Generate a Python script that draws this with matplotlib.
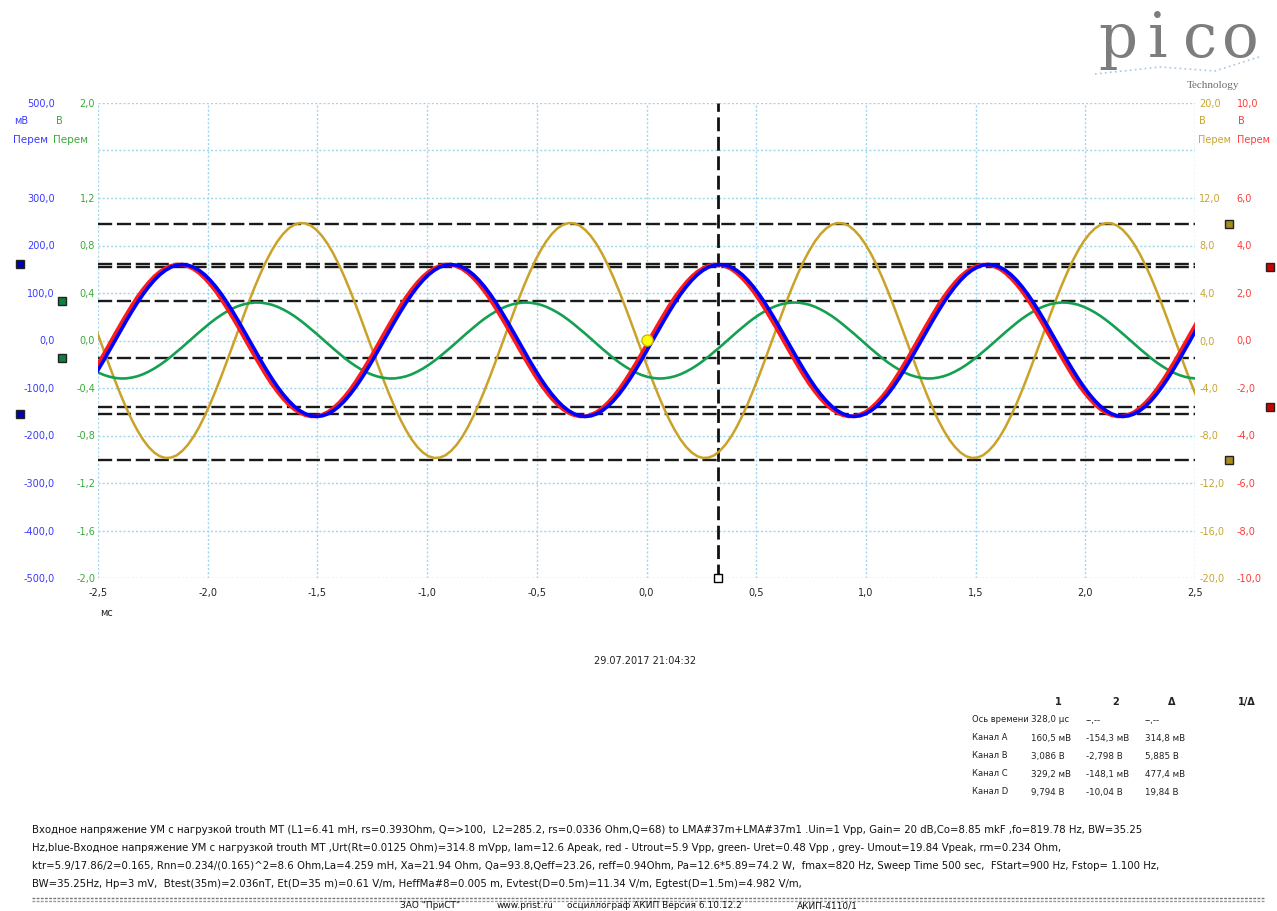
import numpy as np
import matplotlib
matplotlib.use("Agg")
import matplotlib.pyplot as plt
from matplotlib.lines import Line2D
from matplotlib.transforms import blended_transform_factory as btf

# ---------------- data ----------------
T_START = -2.5243   # ms, first sample
DT = 0.025521       # ms, sample interval

chan_a_mv = [
    -80.0, -61.2, -41.4, -20.9, 0.0, 20.9, 41.4, 61.2, 80.0, 97.4, 113.1, 126.9, 138.6, 147.8, 154.5, 158.6,
    160.0, 158.6, 154.5, 147.8, 138.6, 126.9, 113.1, 97.4, 80.0, 61.2, 41.4, 20.9, 0.0, -20.9, -41.4, -61.2,
    -80.0, -97.4, -113.1, -126.9, -138.6, -147.8, -154.5, -158.6, -160.0, -158.6, -154.5, -147.8, -138.6, -126.9, -113.1, -97.4,
    -80.0, -61.2, -41.4, -20.9, 0.0, 20.9, 41.4, 61.2, 80.0, 97.4, 113.1, 126.9, 138.6, 147.8, 154.5, 158.6,
    160.0, 158.6, 154.5, 147.8, 138.6, 126.9, 113.1, 97.4, 80.0, 61.2, 41.4, 20.9, 0.0, -20.9, -41.4, -61.2,
    -80.0, -97.4, -113.1, -126.9, -138.6, -147.8, -154.5, -158.6, -160.0, -158.6, -154.5, -147.8, -138.6, -126.9, -113.1, -97.4,
    -80.0, -61.2, -41.4, -20.9, 0.0, 20.9, 41.4, 61.2, 80.0, 97.4, 113.1, 126.9, 138.6, 147.8, 154.5, 158.6,
    160.0, 158.6, 154.5, 147.8, 138.6, 126.9, 113.1, 97.4, 80.0, 61.2, 41.4, 20.9, 0.0, -20.9, -41.4, -61.2,
    -80.0, -97.4, -113.1, -126.9, -138.6, -147.8, -154.5, -158.6, -160.0, -158.6, -154.5, -147.8, -138.6, -126.9, -113.1, -97.4,
    -80.0, -61.2, -41.4, -20.9, 0.0, 20.9, 41.4, 61.2, 80.0, 97.4, 113.1, 126.9, 138.6, 147.8, 154.5, 158.6,
    160.0, 158.6, 154.5, 147.8, 138.6, 126.9, 113.1, 97.4, 80.0, 61.2, 41.4, 20.9, 0.0, -20.9, -41.4, -61.2,
    -80.0, -97.4, -113.1, -126.9, -138.6, -147.8, -154.5, -158.6, -160.0, -158.6, -154.5, -147.8, -138.6, -126.9, -113.1, -97.4,
    -80.0, -61.2, -41.4, -20.9, 0.0, 20.9, 41.4]

chan_b_v = [
    -1.35, -0.96, -0.56, -0.14, 0.28, 0.69, 1.09, 1.48, 1.84, 2.16, 2.45, 2.70, 2.90, 3.05, 3.15, 3.20,
    3.19, 3.12, 3.01, 2.84, 2.62, 2.36, 2.06, 1.72, 1.35, 0.96, 0.56, 0.14, -0.28, -0.69, -1.09, -1.48,
    -1.84, -2.16, -2.45, -2.70, -2.90, -3.05, -3.15, -3.20, -3.19, -3.12, -3.01, -2.84, -2.62, -2.36, -2.06, -1.72,
    -1.35, -0.96, -0.56, -0.14, 0.28, 0.69, 1.09, 1.48, 1.84, 2.16, 2.45, 2.70, 2.90, 3.05, 3.15, 3.20,
    3.19, 3.12, 3.01, 2.84, 2.62, 2.36, 2.06, 1.72, 1.35, 0.96, 0.56, 0.14, -0.28, -0.69, -1.09, -1.48,
    -1.84, -2.16, -2.45, -2.70, -2.90, -3.05, -3.15, -3.20, -3.19, -3.12, -3.01, -2.84, -2.62, -2.36, -2.06, -1.72,
    -1.35, -0.96, -0.56, -0.14, 0.28, 0.69, 1.09, 1.48, 1.84, 2.16, 2.45, 2.70, 2.90, 3.05, 3.15, 3.20,
    3.19, 3.12, 3.01, 2.84, 2.62, 2.36, 2.06, 1.72, 1.35, 0.96, 0.56, 0.14, -0.28, -0.69, -1.09, -1.48,
    -1.84, -2.16, -2.45, -2.70, -2.90, -3.05, -3.15, -3.20, -3.19, -3.12, -3.01, -2.84, -2.62, -2.36, -2.06, -1.72,
    -1.35, -0.96, -0.56, -0.14, 0.28, 0.69, 1.09, 1.48, 1.84, 2.16, 2.45, 2.70, 2.90, 3.05, 3.15, 3.20,
    3.19, 3.12, 3.01, 2.84, 2.62, 2.36, 2.06, 1.72, 1.35, 0.96, 0.56, 0.14, -0.28, -0.69, -1.09, -1.48,
    -1.84, -2.16, -2.45, -2.70, -2.90, -3.05, -3.15, -3.20, -3.19, -3.12, -3.01, -2.84, -2.62, -2.36, -2.06, -1.72,
    -1.35, -0.96, -0.56, -0.14, 0.28, 0.69, 1.09]

chan_c_v = [
    -0.245, -0.270, -0.290, -0.305, -0.315, -0.320, -0.319, -0.312, -0.301, -0.284, -0.262, -0.236, -0.206, -0.172, -0.135, -0.096,
    -0.056, -0.014, 0.028, 0.069, 0.109, 0.148, 0.184, 0.216, 0.245, 0.270, 0.290, 0.305, 0.315, 0.320, 0.319, 0.312,
    0.301, 0.284, 0.262, 0.236, 0.206, 0.172, 0.135, 0.096, 0.056, 0.014, -0.028, -0.069, -0.109, -0.148, -0.184, -0.216,
    -0.245, -0.270, -0.290, -0.305, -0.315, -0.320, -0.319, -0.312, -0.301, -0.284, -0.262, -0.236, -0.206, -0.172, -0.135, -0.096,
    -0.056, -0.014, 0.028, 0.069, 0.109, 0.148, 0.184, 0.216, 0.245, 0.270, 0.290, 0.305, 0.315, 0.320, 0.319, 0.312,
    0.301, 0.284, 0.262, 0.236, 0.206, 0.172, 0.135, 0.096, 0.056, 0.014, -0.028, -0.069, -0.109, -0.148, -0.184, -0.216,
    -0.245, -0.270, -0.290, -0.305, -0.315, -0.320, -0.319, -0.312, -0.301, -0.284, -0.262, -0.236, -0.206, -0.172, -0.135, -0.096,
    -0.056, -0.014, 0.028, 0.069, 0.109, 0.148, 0.184, 0.216, 0.245, 0.270, 0.290, 0.305, 0.315, 0.320, 0.319, 0.312,
    0.301, 0.284, 0.262, 0.236, 0.206, 0.172, 0.135, 0.096, 0.056, 0.014, -0.028, -0.069, -0.109, -0.148, -0.184, -0.216,
    -0.245, -0.270, -0.290, -0.305, -0.315, -0.320, -0.319, -0.312, -0.301, -0.284, -0.262, -0.236, -0.206, -0.172, -0.135, -0.096,
    -0.056, -0.014, 0.028, 0.069, 0.109, 0.148, 0.184, 0.216, 0.245, 0.270, 0.290, 0.305, 0.315, 0.320, 0.319, 0.312,
    0.301, 0.284, 0.262, 0.236, 0.206, 0.172, 0.135, 0.096, 0.056, 0.014, -0.028, -0.069, -0.109, -0.148, -0.184, -0.216,
    -0.245, -0.270, -0.290, -0.305, -0.315, -0.320, -0.319]

chan_d_v = [
    1.72, 0.43, -0.86, -2.14, -3.39, -4.57, -5.68, -6.69, -7.58, -8.35, -8.97, -9.44, -9.75, -9.89, -9.86, -9.67,
    -9.30, -8.78, -8.11, -7.30, -6.36, -5.32, -4.18, -2.98, -1.72, -0.43, 0.86, 2.14, 3.39, 4.57, 5.68, 6.69,
    7.58, 8.35, 8.97, 9.44, 9.75, 9.89, 9.86, 9.67, 9.30, 8.78, 8.11, 7.30, 6.36, 5.32, 4.18, 2.98,
    1.72, 0.43, -0.86, -2.14, -3.39, -4.57, -5.68, -6.69, -7.58, -8.35, -8.97, -9.44, -9.75, -9.89, -9.86, -9.67,
    -9.30, -8.78, -8.11, -7.30, -6.36, -5.32, -4.18, -2.98, -1.72, -0.43, 0.86, 2.14, 3.39, 4.57, 5.68, 6.69,
    7.58, 8.35, 8.97, 9.44, 9.75, 9.89, 9.86, 9.67, 9.30, 8.78, 8.11, 7.30, 6.36, 5.32, 4.18, 2.98,
    1.72, 0.43, -0.86, -2.14, -3.39, -4.57, -5.68, -6.69, -7.58, -8.35, -8.97, -9.44, -9.75, -9.89, -9.86, -9.67,
    -9.30, -8.78, -8.11, -7.30, -6.36, -5.32, -4.18, -2.98, -1.72, -0.43, 0.86, 2.14, 3.39, 4.57, 5.68, 6.69,
    7.58, 8.35, 8.97, 9.44, 9.75, 9.89, 9.86, 9.67, 9.30, 8.78, 8.11, 7.30, 6.36, 5.32, 4.18, 2.98,
    1.72, 0.43, -0.86, -2.14, -3.39, -4.57, -5.68, -6.69, -7.58, -8.35, -8.97, -9.44, -9.75, -9.89, -9.86, -9.67,
    -9.30, -8.78, -8.11, -7.30, -6.36, -5.32, -4.18, -2.98, -1.72, -0.43, 0.86, 2.14, 3.39, 4.57, 5.68, 6.69,
    7.58, 8.35, 8.97, 9.44, 9.75, 9.89, 9.86, 9.67, 9.30, 8.78, 8.11, 7.30, 6.36, 5.32, 4.18, 2.98,
    1.72, 0.43, -0.86, -2.14, -3.39, -4.57, -5.68]

x_ticks = [-2.5, -2.0, -1.5, -1.0, -0.5, 0.0, 0.5, 1.0, 1.5, 2.0, 2.5]
x_labels = ['-2,5', '-2,0', '-1,5', '-1,0', '-0,5', '0,0', '0,5', '1,0', '1,5', '2,0', '2,5']

a_ticks = [500, 400, 300, 200, 100, 0, -100, -200, -300, -400, -500]
a_labels = ['500,0', '', '300,0', '200,0', '100,0', '0,0', '-100,0', '-200,0', '-300,0', '-400,0', '-500,0']
c_ticks = [2.0, 1.6, 1.2, 0.8, 0.4, 0.0, -0.4, -0.8, -1.2, -1.6, -2.0]
c_labels = ['2,0', '', '1,2', '0,8', '0,4', '0,0', '-0,4', '-0,8', '-1,2', '-1,6', '-2,0']
d_ticks = [20, 16, 12, 8, 4, 0, -4, -8, -12, -16, -20]
d_labels = ['20,0', '', '12,0', '8,0', '4,0', '0,0', '-4,0', '-8,0', '-12,0', '-16,0', '-20,0']
b_ticks = [10, 8, 6, 4, 2, 0, -2, -4, -6, -8, -10]
b_labels = ['10,0', '', '6,0', '4,0', '2,0', '0,0', '-2,0', '-4,0', '-6,0', '-8,0', '-10,0']

cursor_t = 0.328
cursor_a = [160.5, -154.3]
cursor_b = [3.086, -2.798]
cursor_c = [0.3292, -0.1481]
cursor_d = [9.794, -10.04]

tbl_head = ['1', '2', 'Δ', '1/Δ']
tbl_rows = ['Ось времени', 'Канал A', 'Канал B', 'Канал C', 'Канал D']
tbl_col1 = ['328,0 µс', '160,5 мВ', '3,086 В', '329,2 мВ', '9,794 В']
tbl_col2 = ['--,--', '-154,3 мВ', '-2,798 В', '-148,1 мВ', '-10,04 В']
tbl_col3 = ['--,--', '314,8 мВ', '5,885 В', '477,4 мВ', '19,84 В']

notes = [
    'Входное напряжение УМ с нагрузкой trouth MT (L1=6.41 mH, rs=0.393Ohm, Q=>100,  L2=285.2, rs=0.0336 Ohm,Q=68) to LMA#37m+LMA#37m1 .Uin=1 Vpp, Gain= 20 dB,Co=8.85 mkF ,fo=819.78 Hz, BW=35.25',
    'Hz,blue-Входное напряжение УМ с нагрузкой trouth MT ,Urt(Rt=0.0125 Ohm)=314.8 mVpp, Iam=12.6 Apeak, red - Utrout=5.9 Vpp, green- Uret=0.48 Vpp , grey- Umout=19.84 Vpeak, rm=0.234 Ohm,',
    'ktr=5.9/17.86/2=0.165, Rnn=0.234/(0.165)^2=8.6 Ohm,La=4.259 mH, Xa=21.94 Ohm, Qa=93.8,Qeff=23.26, reff=0.94Ohm, Pa=12.6*5.89=74.2 W,  fmax=820 Hz, Sweep Time 500 sec,  FStart=900 Hz, Fstop= 1.100 Hz,',
    'BW=35.25Hz, Hp=3 mV,  Btest(35m)=2.036nT, Et(D=35 m)=0.61 V/m, HeffMa#8=0.005 m, Evtest(D=0.5m)=11.34 V/m, Egtest(D=1.5m)=4.982 V/m,',
]

# ---------------- styling ----------------
W, H = 1277, 911
COL_A, COL_B, COL_C, COL_D = '#0000ff', '#ff1a1a', '#14a050', '#c9a227'
LAB_A, LAB_B, LAB_C, LAB_D = '#3a3aff', '#ff3b3b', '#3aaa3a', '#c8a430'
GRID = '#9fd6ee'
FS = 7

plt.rcParams['font.family'] = ['DejaVu Sans']

def fx(x):
    return x / W

def fy(y):
    return 1 - y / H

fig = plt.figure(figsize=(W / 100, H / 100), dpi=100)
rect = [fx(98), fy(578), (1195 - 98) / W, (578 - 103) / H]
axD = fig.add_axes(rect)
axC = axD.twinx()
axB = axD.twinx()
axA = axD.twinx()

t_ms = T_START + DT * np.arange(len(chan_a_mv))

for ax in (axD, axC, axB, axA):
    ax.set_xlim(-2.5, 2.5)
    for s in ax.spines.values():
        s.set_visible(False)
    ax.tick_params(length=0)
axD.set_ylim(-20, 20)
axC.set_ylim(-2, 2)
axB.set_ylim(-10, 10)
axA.set_ylim(-500, 500)

axD.yaxis.tick_right()
axD.set_yticks(d_ticks, d_labels)
axD.tick_params(axis='y', pad=3, labelsize=FS, labelcolor=LAB_D)
axB.yaxis.tick_right()
axB.set_yticks(b_ticks, b_labels)
axB.tick_params(axis='y', pad=30, labelsize=FS, labelcolor=LAB_B)
axC.yaxis.tick_left()
axC.set_yticks(c_ticks, c_labels)
axC.tick_params(axis='y', pad=2, labelsize=FS, labelcolor=LAB_C)
axA.yaxis.tick_left()
axA.set_yticks(a_ticks, a_labels)
axA.tick_params(axis='y', pad=31, labelsize=FS, labelcolor=LAB_A)

axD.set_xticks(x_ticks, x_labels)
axD.tick_params(axis='x', pad=7, labelsize=FS, labelcolor='#222222')

axD.grid(True, color=GRID, linestyle=(0, (1.5, 1.5)), linewidth=1.0)

# cursor levels
for ax_src, levels in ((axD, cursor_d), (axA, cursor_a), (axB, cursor_b), (axC, cursor_c)):
    tr = btf(axD.transAxes, ax_src.transData)
    for lv in levels:
        axD.plot([0, 1], [lv, lv], transform=tr, color='#1a1a1a',
                 linestyle=(0, (6, 2)), linewidth=1.7, zorder=2)

# time cursor
axD.axvline(cursor_t, color='#111111', linestyle=(0, (5, 2)), linewidth=2.0, zorder=2)
axD.plot([cursor_t], [-20], marker='s', markersize=6, markerfacecolor='white',
         markeredgecolor='black', clip_on=False, zorder=6)

# waveforms
axD.plot(t_ms, chan_d_v, color=COL_D, linewidth=1.8, zorder=3)
axC.plot(t_ms, chan_c_v, color=COL_C, linewidth=1.9, zorder=3)
axB.plot(t_ms, chan_b_v, color=COL_B, linewidth=2.6, zorder=3)
axA.plot(t_ms, chan_a_mv, color=COL_A, linewidth=2.6, zorder=4)

axA.plot([0.0], [0.0], marker='o', markersize=8, markerfacecolor='#ffff00',
         markeredgecolor='#c9b800', zorder=6)

def side_markers(ax, xa, levels, fc):
    tr = btf(ax.transAxes, ax.transData)
    for lv in levels:
        ax.plot([xa], [lv], transform=tr, marker='s', markersize=5.5, markerfacecolor=fc,
                markeredgecolor='#222222', markeredgewidth=1.0, clip_on=False, zorder=6)

side_markers(axA, (20 - 98) / 1097, cursor_a, '#0000b0')
side_markers(axC, (62 - 98) / 1097, cursor_c, '#0b8040')
side_markers(axD, (1229 - 98) / 1097, cursor_d, '#a88a20')
side_markers(axB, (1270 - 98) / 1097, cursor_b, '#d00000')

# axis unit labels
fig.text(fx(14), fy(121), 'мВ', color=LAB_A, fontsize=FS, va='center', ha='left')
fig.text(fx(56), fy(121), 'В', color=LAB_C, fontsize=FS, va='center', ha='left')
fig.text(fx(13), fy(140), 'Перем', color=LAB_A, fontsize=7.5, va='center', ha='left')
fig.text(fx(53), fy(140), 'Перем', color=LAB_C, fontsize=7.5, va='center', ha='left')
fig.text(fx(1199), fy(121), 'В', color=LAB_D, fontsize=FS, va='center', ha='left')
fig.text(fx(1238), fy(121), 'В', color=LAB_B, fontsize=FS, va='center', ha='left')
fig.text(fx(1198), fy(140), 'Перем', color=LAB_D, fontsize=FS, va='center', ha='left')
fig.text(fx(1237), fy(140), 'Перем', color=LAB_B, fontsize=FS, va='center', ha='left')

fig.text(fx(100), fy(613), 'мс', color='#222222', fontsize=FS, va='center', ha='left')
fig.text(fx(645), fy(661), '29.07.2017 21:04:32', color='#222222', fontsize=FS, va='center', ha='center')

# logo
for ch, xx in zip('pico', (1098, 1148, 1183, 1222)):
    fig.text(fx(xx), fy(57), ch, fontsize=44, family='DejaVu Serif', color='#7d7d7d',
             va='baseline', ha='left')
fig.text(fx(1213), fy(85), 'Technology', fontsize=8, family='Liberation Serif', color='#6d6d6d',
         va='center', ha='center')
fig.add_artist(Line2D([fx(1095), fx(1160), fx(1215), fx(1262)], [fy(74), fy(67), fy(71), fy(56)],
                      color='#a9c6e6', linestyle=(0, (1, 2)), linewidth=1.2))

# measurement table
hx = [1055, 1112, 1168, 1238]
for s, xx in zip(tbl_head, hx):
    fig.text(fx(xx), fy(702), s, fontsize=FS, fontweight='bold', color='#222222', va='center', ha='left')
ys = [720, 738, 756, 774, 792]
for i, yy in enumerate(ys):
    fig.text(fx(972), fy(yy), tbl_rows[i], fontsize=6.0, color='#222222', va='center', ha='left')
    fig.text(fx(1031), fy(yy), tbl_col1[i], fontsize=6.3, color='#222222', va='center', ha='left')
    fig.text(fx(1086), fy(yy), tbl_col2[i], fontsize=6.3, color='#222222', va='center', ha='left')
    fig.text(fx(1145), fy(yy), tbl_col3[i], fontsize=6.3, color='#222222', va='center', ha='left')

# notes
for s, yy in zip(notes, (830, 848, 866, 884)):
    fig.text(fx(32), fy(yy), s, fontsize=7.3, color='#111111', va='center', ha='left')

fig.add_artist(Line2D([fx(32), fx(1265)], [fy(898), fy(898)], color='#777777',
                      linestyle=(0, (2, 1)), linewidth=1.0))
fig.add_artist(Line2D([fx(32), fx(1265)], [fy(900.5), fy(900.5)], color='#999999',
                      linestyle=(0, (2, 1)), linewidth=1.0))
footer = [('ЗАО "ПриСТ"', 400), ('www.prist.ru', 497), ('осциллограф АКИП Версия 6.10.12.2', 567),
          ('АКИП-4110/1', 797)]
for s, xx in footer:
    fig.text(fx(xx), fy(906), s, fontsize=FS - 0.5, color='#111111', va='center', ha='left')

fig.savefig('out.png', dpi=100, facecolor='white')
